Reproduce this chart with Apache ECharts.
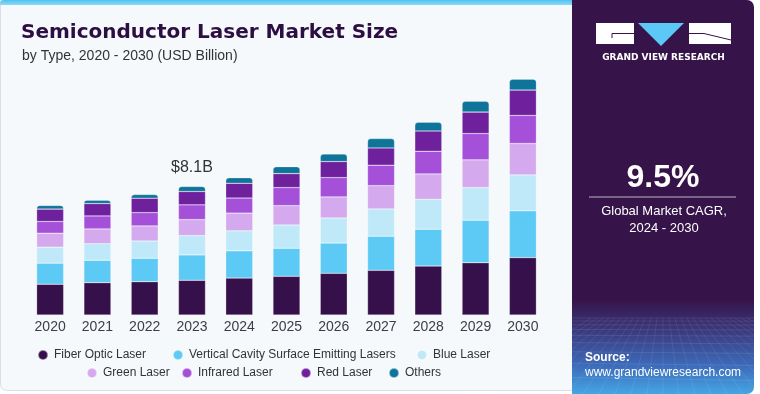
<!DOCTYPE html>
<html><head><meta charset="utf-8">
<script src="https://cdn.jsdelivr.net/npm/echarts/dist/echarts.min.js"></script>
<style>html,body{margin:0;padding:0;background:#fff;}#c{width:760px;height:394px;}</style>
</head><body><div id="c"></div>
<script>
const years = ['2020','2021','2022','2023','2024','2025','2026','2027','2028','2029','2030'];
const fiberOptic    = [1.94,2.04,2.10,2.19,2.33,2.44,2.63,2.82,3.09,3.30,3.62];
const vcsel         = [1.33,1.41,1.48,1.60,1.72,1.77,1.91,2.15,2.32,2.68,2.95];
const blueLaser     = [1.01,1.05,1.09,1.22,1.26,1.47,1.58,1.72,1.89,2.06,2.27];
const greenLaser    = [0.88,0.93,0.95,1.01,1.12,1.22,1.33,1.47,1.60,1.75,1.98];
const infraredLaser = [0.74,0.82,0.84,0.93,0.95,1.14,1.22,1.29,1.43,1.66,1.77];
const redLaser      = [0.78,0.78,0.91,0.84,0.93,0.88,1.01,1.09,1.28,1.35,1.60];
const others        = [0.23,0.21,0.23,0.32,0.35,0.44,0.47,0.59,0.55,0.69,0.69];
const seriesNames = ['Fiber Optic Laser','Vertical Cavity Surface Emitting Lasers','Blue Laser','Green Laser','Infrared Laser','Red Laser','Others'];
const labelYear = '2023';
const cagrText = '9.5%';

const seriesData = [fiberOptic, vcsel, blueLaser, greenLaser, infraredLaser, redLaser, others];
const colors = ['#36104a','#5dc9f5','#bfe9f9','#d5a9ed','#a450d9','#6f209d','#0e7499'];
const FONT = 'Liberation Sans';

const chart = echarts.init(document.getElementById('c'), null, {renderer:'canvas'});

const totals = years.map((_, i) => seriesData.reduce((s, arr) => s + arr[i], 0));

const series = seriesNames.map((name, k) => {
  const isTop = k === seriesNames.length - 1;
  return {
    name, type: 'bar', stack: 'total', barWidth: 27,
    itemStyle: { color: colors[k], borderColor: 'rgba(255,255,255,0.5)', borderWidth: 0.5,
      borderRadius: isTop ? [3,3,0,0] : 0 },
    emphasis: { disabled: true },
    data: seriesData[k].map((v, i) => {
      if (isTop && years[i] === labelYear) {
        return { value: v, label: { show: true, position: 'top', distance: 11,
          formatter: '$' + totals[i].toFixed(1) + 'B',
          color: '#333', fontSize: 16, fontFamily: FONT } };
      }
      return v;
    })
  };
});

// legend, one component per item for exact placement
const legendPos = [
  {left: 37, c: 354}, {left: 172, c: 354}, {left: 416, c: 354},
  {left: 86, c: 372}, {left: 181, c: 372}, {left: 300, c: 372}, {left: 388, c: 372}
];
const legends = seriesNames.map((n, k) => ({
  data: [{name: n, icon: 'circle'}], left: legendPos[k].left, top: legendPos[k].c - 5,
  padding: 0, itemWidth: 10, itemHeight: 10, itemGap: 0, selectedMode: false,
  textStyle: { fontSize: 12, color: '#333', fontFamily: FONT, lineHeight: 10, padding: [0,0,0,1] }
}));

// decorative mesh in the panel footer
const mesh = [];
const px0 = 572, px1 = 754, my0 = 318, my1 = 394;
let yy = my0, step = 3;
while (yy < my1) { mesh.push({type:'line', z: -5, silent: true,
  shape:{x1:px0,y1:yy,x2:px1,y2:yy+ (yy-my0)*0.05}, style:{stroke:'rgba(255,255,255,0.13)', lineWidth:0.7}}); yy += step; step *= 1.25; }
for (let i = -12; i <= 24; i++) {
  const xt = 663 + i * 6, xb = 663 + i * 16;
  mesh.push({type:'line', z: -5, silent: true, shape:{x1:xt,y1:my0,x2:xb,y2:my1},
    style:{stroke:'rgba(255,255,255,0.12)', lineWidth:0.7}});
}

const graphic = [
  // left card
  {type:'rect', z:-20, silent:true, shape:{x:0.5,y:0.5,width:580,height:390,r:[0,0,0,6]},
    style:{fill:'#f5f9fc', stroke:'#d9dee4', lineWidth:1}},
  {type:'rect', z:-19, silent:true, shape:{x:0,y:0,width:580,height:5,r:[4,0,0,0]},
    style:{fill:new echarts.graphic.LinearGradient(0,0,0,1,[{offset:0,color:'#4fc3f0'},{offset:1,color:'#8fd8f6'}])}},
  // right panel
  {type:'rect', z:-10, silent:true, shape:{x:572,y:0,width:182,height:394,r:[0,7,7,0]},
    style:{fill:new echarts.graphic.LinearGradient(0,0,0,1,[
      {offset:0,color:'#361349'},{offset:0.76,color:'#361349'},{offset:0.84,color:'#3a3a7e'},
      {offset:0.93,color:'#3d6cbb'},{offset:1,color:'#44a6e4'}])}},
  {type:'group', children: mesh},
  // logo
  {type:'rect', silent:true, shape:{x:596,y:23,width:38,height:21}, style:{fill:'#ffffff'}},
  {type:'polyline', silent:true, shape:{points:[[634,33.5],[612,33.5],[612,38]]}, style:{stroke:'#361349', lineWidth:1, fill:null}},
  {type:'polygon', silent:true, shape:{points:[[638,23],[684,23],[661,46]]}, style:{fill:'#5bc8f5'}},
  {type:'rect', silent:true, shape:{x:689,y:23,width:42,height:21}, style:{fill:'#ffffff'}},
  {type:'polyline', silent:true, shape:{points:[[689,33.5],[704,33.5],[731,40]]}, style:{stroke:'#361349', lineWidth:1, fill:null}},
  {type:'text', silent:true, style:{x:663.5, y:58, text:'GRAND VIEW RESEARCH', fill:'#ffffff',
    font:'bold 9px "DejaVu Sans"', textAlign:'center', textVerticalAlign:'middle'}},
  // CAGR
  {type:'text', silent:true, style:{x:663, y:178, text:cagrText, fill:'#ffffff',
    font:'bold 32px "Liberation Sans"', textAlign:'center', textVerticalAlign:'middle'}},
  {type:'line', silent:true, shape:{x1:589,y1:197,x2:736,y2:197}, style:{stroke:'#bdb3c7', lineWidth:1}},
  {type:'text', silent:true, style:{x:664, y:211.5, text:'Global Market CAGR,', fill:'#ffffff',
    font:'13px "Liberation Sans"', textAlign:'center', textVerticalAlign:'middle'}},
  {type:'text', silent:true, style:{x:664, y:228.5, text:'2024 - 2030', fill:'#ffffff',
    font:'13px "Liberation Sans"', textAlign:'center', textVerticalAlign:'middle'}},
  // source
  {type:'text', silent:true, style:{x:585, y:358, text:'Source:', fill:'#ffffff',
    font:'bold 12px "Liberation Sans"', textAlign:'left', textVerticalAlign:'middle'}},
  {type:'text', silent:true, style:{x:585, y:372.5, text:'www.grandviewresearch.com', fill:'#ffffff',
    font:'12px "Liberation Sans"', textAlign:'left', textVerticalAlign:'middle'}}
];

chart.setOption({
  animation: false,
  backgroundColor: 'transparent',
  title: [
    {text:'Semiconductor Laser Market Size', left: 21, top: 23, padding: 0,
      textStyle:{fontSize: 20, fontWeight: 'bold', color:'#2d0e42', fontFamily: 'DejaVu Sans'}},
    {text:'by Type, 2020 - 2030 (USD Billion)', left: 22, top: 49, padding: 0,
      textStyle:{fontSize: 14, fontWeight: 'normal', color:'#333', fontFamily: FONT}}
  ],
  legend: legends,
  grid: { left: 26.5, width: 520, top: 61.4, bottom: 79, containLabel: false },
  xAxis: { type:'category', data: years,
    axisLine:{show:false}, axisTick:{show:false},
    axisLabel:{ fontSize: 14, color:'#3d3d46', fontFamily: FONT, margin: 5 } },
  yAxis: { type:'value', min: 0, max: 16, show: false },
  series,
  graphic
});
</script></body></html>
